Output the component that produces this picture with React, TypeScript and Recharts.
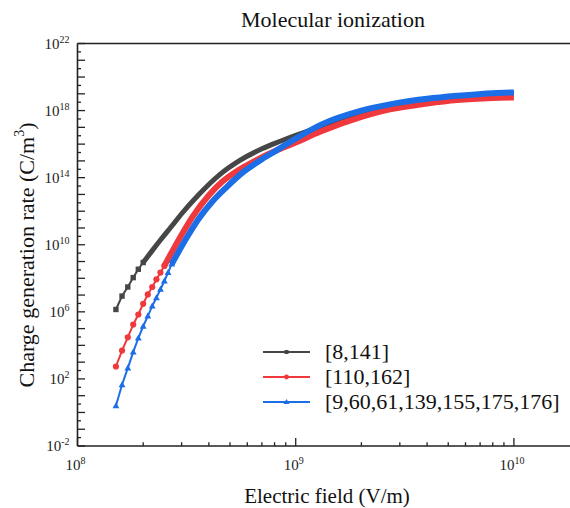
import React from 'react'
import { LineChart, Line, XAxis, YAxis, ReferenceLine } from 'recharts'

const SERIF = 'Liberation Serif'
const AXIS = '#222'
const BLACK = '#464646'
const RED = '#f0393c'
const BLUE = '#1c6ee6'

// low-field samples (V/m) where the markers are still apart
const HEAD_X = [1.5e8, 1.6e8, 1.7e8, 1.8e8, 1.9e8, 2.0e8, 2.1e8, 2.2e8, 2.3e8, 2.4e8, 2.5e8, 2.6e8, 2.7e8]
// exponents of the charge generation rate, log10(C/m^3)
const BLACK_HEAD = [6.14, 6.94, 7.48, 8.04, 8.54, 8.94]
const RED_HEAD = [2.74, 3.69, 4.48, 5.24, 5.84, 6.48, 7.04, 7.48, 7.94, 8.34, 8.74]
const BLUE_HEAD = [0.4, 1.65, 2.64, 3.6, 4.44, 5.14, 5.74, 6.34, 6.84, 7.34, 7.84, 8.34, 8.84]

// higher fields, markers merge into a thick band
const BLACK_TAIL_X = [2.0e8, 2.2e8, 2.4e8, 2.7e8, 3.0e8, 3.6e8, 4.5e8, 5.5e8, 7.0e8, 8.5e8, 1.0e9, 1.3e9, 2.0e9, 3.0e9, 4.0e9, 5.5e9, 8.0e9, 1.0e10]
const BLACK_TAIL = [8.94, 9.65, 10.28, 11.1, 11.85, 13.0, 14.2, 15.0, 15.72, 16.17, 16.52, 17.05, 17.85, 18.32, 18.57, 18.78, 18.95, 19.0]
const RED_TAIL_X = [2.5e8, 3.0e8, 3.4e8, 4.0e8, 4.6e8, 5.5e8, 6.5e8, 8.0e8, 1.0e9, 1.3e9, 2.0e9, 2.7e9, 4.0e9, 5.5e9, 8.0e9, 1.0e10]
const RED_TAIL = [8.74, 10.6, 11.75, 12.95, 13.75, 14.47, 15.0, 15.57, 16.1, 16.75, 17.62, 18.07, 18.42, 18.63, 18.75, 18.78]
const BLUE_TAIL_X = [2.7e8, 3.2e8, 3.6e8, 4.2e8, 4.8e8, 5.8e8, 7.0e8, 8.2e8, 1.0e9, 1.3e9, 2.0e9, 2.7e9, 4.0e9, 5.5e9, 8.0e9, 1.0e10]
const BLUE_TAIL = [8.84, 10.52, 11.56, 12.65, 13.41, 14.37, 15.1, 15.64, 16.33, 17.15, 18.0, 18.37, 18.7, 18.88, 19.04, 19.08]

const SERIES_NAMES = ['[8,141]', '[110,162]', '[9,60,61,139,155,175,176]']

const X_TICKS = [
  1e8, 2e8, 3e8, 4e8, 5e8, 6e8, 7e8, 8e8, 9e8,
  1e9, 2e9, 3e9, 4e9, 5e9, 6e9, 7e9, 8e9, 9e9,
  1e10,
]
const X_LABEL_EXP = [8, 9, 10]
const Y_TICK_EXP = [
  -2, -1.5, -1, -0.5, 0, 0.5, 1, 1.5, 2, 2.5, 3, 3.5, 4, 4.5, 5, 5.5, 6, 6.5, 7, 7.5, 8, 8.5, 9, 9.5,
  10, 10.5, 11, 11.5, 12, 12.5, 13, 13.5, 14, 14.5, 15, 15.5, 16, 16.5, 17, 17.5, 18, 18.5, 19, 19.5,
  20, 20.5, 21, 21.5, 22,
]
const Y_LABEL_EXP = [-2, 2, 6, 10, 14, 18, 22]

// plot box (page pixels) – the frame runs off the right edge like the original
const W = 570
const H = 508
const PLOT_LEFT = 77.5
const PLOT_TOP = 43.5
const PLOT_BOTTOM = 446
const X_DECADES = 2.257
const X_MIN = 1e8
const X_MAX = X_MIN * Math.pow(10, X_DECADES)
const Y_MIN_EXP = -2
const Y_MAX_EXP = 22

const xPos = (exp: number) => PLOT_LEFT + ((W - PLOT_LEFT) * (exp - 8)) / X_DECADES
const yPos = (exp: number) => PLOT_TOP + ((PLOT_BOTTOM - PLOT_TOP) * (Y_MAX_EXP - exp)) / (Y_MAX_EXP - Y_MIN_EXP)

const toPoints = (xs: number[], exps: number[]) => exps.map((e, i) => ({ x: xs[i], y: Math.pow(10, e) }))

const squareDot = (p: any) =>
  p.cx == null ? null : (
    <rect key={`s${p.index}`} x={p.cx - 2.7} y={p.cy - 2.7} width={5.4} height={5.4} fill={BLACK} />
  )
const circleDot = (p: any) =>
  p.cx == null ? null : <circle key={`c${p.index}`} cx={p.cx} cy={p.cy} r={3.1} fill={RED} />
const triDot = (p: any) =>
  p.cx == null ? null : (
    <polygon
      key={`t${p.index}`}
      points={`${p.cx},${p.cy - 3.6} ${p.cx + 3.4},${p.cy + 2.4} ${p.cx - 3.4},${p.cy + 2.4}`}
      fill={BLUE}
    />
  )

// inward tick marks
function XTick({ x, y, payload }: any) {
  const exp = Math.log10(payload.value)
  const major = Math.abs(exp - Math.round(exp)) < 1e-6
  return <line x1={x} x2={x} y1={y} y2={y - (major ? 8 : 3.8)} stroke={AXIS} strokeWidth={1.3} />
}

function YTick({ x, y, payload }: any) {
  const exp = Math.round(Math.log10(payload.value) * 2) / 2
  const major = Number.isInteger(exp)
  return <line x1={x} x2={x + (major ? 7.5 : 3.5)} y1={y} y2={y} stroke={AXIS} strokeWidth={1.3} />
}

function Texts() {
  const legendRows = [
    { name: SERIES_NAMES[0], color: BLACK, shape: 'square' },
    { name: SERIES_NAMES[1], color: RED, shape: 'circle' },
    { name: SERIES_NAMES[2], color: BLUE, shape: 'tri' },
  ]
  return (
    <svg width={W} height={H} style={{ position: 'absolute', left: 0, top: 0, pointerEvents: 'none' }}>
      <text x={333} y={27} textAnchor="middle" fontFamily={SERIF} fontSize={22} fill="#111">
        Molecular ionization
      </text>
      <text x={327} y={503} textAnchor="middle" fontFamily={SERIF} fontSize={21} fill="#111">
        Electric field (V/m)
      </text>
      <text
        x={26}
        y={255}
        transform="rotate(-90 26 255)"
        textAnchor="middle"
        dominantBaseline="central"
        fontFamily={SERIF}
        fontSize={22}
        fill="#111"
      >
        Charge generation rate (C/m
        <tspan fontSize={14} dy={-7}>3</tspan>
        <tspan dy={7}>)</tspan>
      </text>

      {X_LABEL_EXP.map((e) => (
        <text key={`xl${e}`} x={xPos(e) - 2} y={PLOT_BOTTOM + 24} textAnchor="middle" fontFamily={SERIF} fontSize={15} fill="#222">
          10
          <tspan fontSize={10} dy={-6}>{e}</tspan>
        </text>
      ))}
      {Y_LABEL_EXP.map((e) => (
        <text key={`yl${e}`} x={PLOT_LEFT - 8} y={yPos(e) + 5} textAnchor="end" fontFamily={SERIF} fontSize={15} fill="#222">
          10
          <tspan fontSize={10} dy={-6}>{e}</tspan>
        </text>
      ))}

      {legendRows.map((r, i) => {
        const cy = 352 + i * 25
        return (
          <g key={r.name}>
            <line x1={263} x2={310} y1={cy} y2={cy} stroke={r.color} strokeWidth={2} />
            {r.shape === 'square' && <rect x={284.5} y={cy - 2} width={4} height={4} fill={r.color} />}
            {r.shape === 'circle' && <circle cx={286.5} cy={cy} r={2.4} fill={r.color} />}
            {r.shape === 'tri' && (
              <polygon points={`286.5,${cy - 3} 289.5,${cy + 2} 283.5,${cy + 2}`} fill={r.color} />
            )}
            <text x={325} y={cy + 7} fontFamily={SERIF} fontSize={22} fill="#111">
              {r.name}
            </text>
          </g>
        )
      })}
    </svg>
  )
}

export default function App() {
  const blackHead = toPoints(HEAD_X, BLACK_HEAD)
  const redHead = toPoints(HEAD_X, RED_HEAD)
  const blueHead = toPoints(HEAD_X, BLUE_HEAD)
  const blackTail = toPoints(BLACK_TAIL_X, BLACK_TAIL)
  const redTail = toPoints(RED_TAIL_X, RED_TAIL)
  const blueTail = toPoints(BLUE_TAIL_X, BLUE_TAIL)

  return (
    <div style={{ position: 'absolute', left: 0, top: 0, width: W, height: H, overflow: 'hidden', background: '#fff' }}>
      <LineChart width={W} height={H} margin={{ top: PLOT_TOP, right: 0, bottom: H - PLOT_BOTTOM - 50, left: 0 }}>
        <XAxis
          dataKey="x"
          type="number"
          scale="log"
          domain={[X_MIN, X_MAX]}
          allowDataOverflow
          ticks={X_TICKS}
          interval={0}
          tickSize={0}
          tickMargin={0}
          tick={<XTick />}
          height={50}
          axisLine={{ stroke: AXIS, strokeWidth: 1.6 }}
        />
        <YAxis
          type="number"
          scale="log"
          domain={[Math.pow(10, Y_MIN_EXP), Math.pow(10, Y_MAX_EXP)]}
          allowDataOverflow
          ticks={Y_TICK_EXP.map((e) => Math.pow(10, e))}
          interval={0}
          tickSize={0}
          tickMargin={0}
          tick={<YTick />}
          width={PLOT_LEFT}
          axisLine={{ stroke: AXIS, strokeWidth: 1.6 }}
        />
        <ReferenceLine y={Math.pow(10, Y_MAX_EXP)} stroke={AXIS} strokeWidth={1.6} />

        <Line data={blackTail} dataKey="y" type="monotone" stroke={BLACK} strokeWidth={5} dot={false} isAnimationActive={false} legendType="none" />
        <Line data={blackHead} dataKey="y" type="linear" stroke={BLACK} strokeWidth={2} dot={squareDot} isAnimationActive={false} legendType="none" />
        <Line data={redTail} dataKey="y" type="monotone" stroke={RED} strokeWidth={6} dot={false} isAnimationActive={false} legendType="none" />
        <Line data={redHead} dataKey="y" type="linear" stroke={RED} strokeWidth={2} dot={circleDot} isAnimationActive={false} legendType="none" />
        <Line data={blueTail} dataKey="y" type="monotone" stroke={BLUE} strokeWidth={6} dot={false} isAnimationActive={false} legendType="none" />
        <Line data={blueHead} dataKey="y" type="linear" stroke={BLUE} strokeWidth={2} dot={triDot} isAnimationActive={false} legendType="none" />
      </LineChart>
      <Texts />
    </div>
  )
}
